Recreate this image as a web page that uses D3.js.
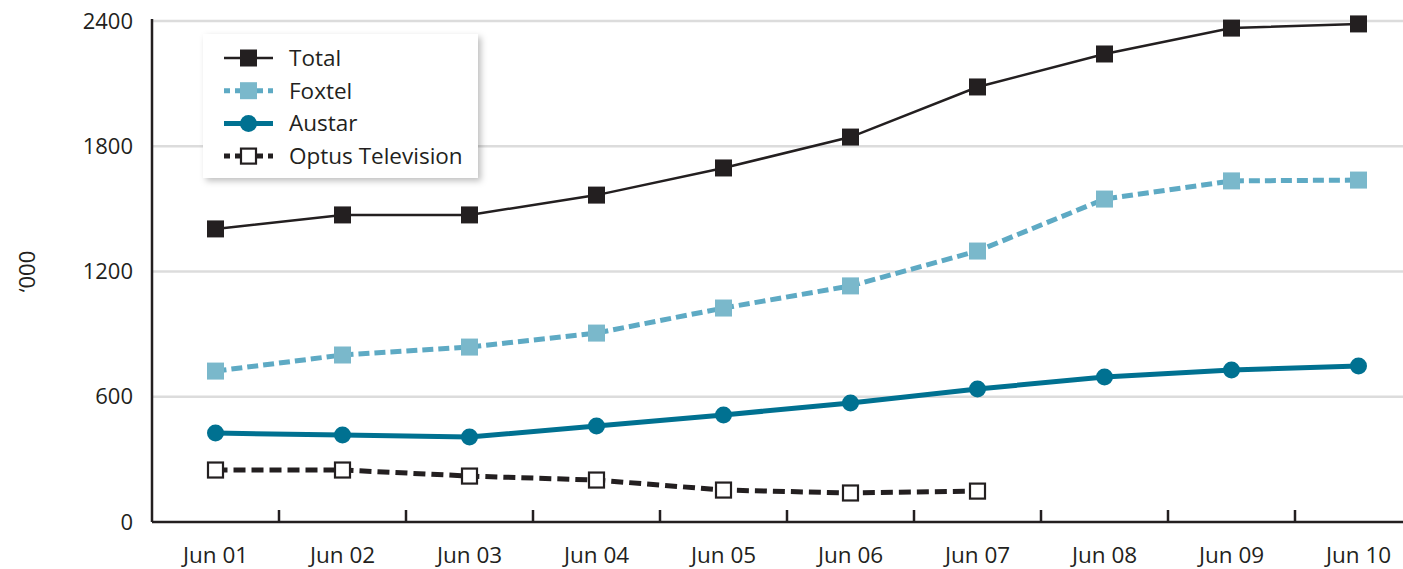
<!DOCTYPE html>
<html>
<head>
<meta charset="utf-8">
<script src="https://cdn.jsdelivr.net/npm/d3@7"></script>
<style>
  body { margin: 0; background: #fff; }
  svg { display: block; font-family: "Open Sans", sans-serif; }
</style>
</head>
<body>
<div id="chart"></div>
<script>
// chart values
const months = ['Jun 01', 'Jun 02', 'Jun 03', 'Jun 04', 'Jun 05', 'Jun 06', 'Jun 07', 'Jun 08', 'Jun 09', 'Jun 10'];
const total = [1404, 1471, 1471, 1566, 1696, 1844, 2084, 2242, 2366, 2386];
const foxtel = [723, 800, 838, 905, 1025, 1131, 1298, 1547, 1634, 1638];
const austar = [426, 417, 407, 460, 513, 570, 637, 695, 728, 747];
const optus = [249, 249, 220, 201, 153, 139, 148];
const yTicks = [0, 600, 1200, 1800, 2400];
const yLabel = '\u2018000';

const width = 1403;
const height = 569;
const margin = { top: 21, left: 152, bottom: 47 };

const svg = d3.select('#chart')
  .append('svg')
  .attr('width', width)
  .attr('height', height);

const defs = svg.append('defs');
const shadow = defs.append('filter').attr('id', 'shadow')
  .attr('x', '-10%').attr('y', '-10%').attr('width', '125%').attr('height', '130%');
shadow.append('feDropShadow')
  .attr('dx', 3).attr('dy', 3).attr('stdDeviation', 3)
  .attr('flood-color', '#000').attr('flood-opacity', 0.25);

const x = d3.scaleBand()
  .domain(months)
  .range([margin.left, margin.left + 127 * months.length])
  .padding(0);

const y = d3.scaleLinear()
  .domain([0, 2400])
  .range([height - margin.bottom, margin.top]);

const cx = (d, i) => x(months[i]) + x.bandwidth() / 2;

// gridlines
svg.append('g')
  .selectAll('line')
  .data(yTicks.filter(d => d > 0))
  .join('line')
  .attr('x1', margin.left)
  .attr('x2', width)
  .attr('y1', d => y(d))
  .attr('y2', d => y(d))
  .attr('stroke', '#dcdcdc')
  .attr('stroke-width', 2.5);

// y labels
svg.append('g')
  .selectAll('text')
  .data(yTicks)
  .join('text')
  .attr('x', 133)
  .attr('y', d => y(d))
  .attr('dy', '0.35em')
  .attr('text-anchor', 'end')
  .attr('font-size', 22)
  .attr('fill', '#231f20')
  .text(d => d);

svg.append('text')
  .attr('transform', `translate(35, ${y(1200)}) rotate(-90)`)
  .attr('text-anchor', 'middle')
  .attr('font-size', 22)
  .attr('fill', '#231f20')
  .text(yLabel);

// x axis with ticks pointing up
const xAxis = svg.append('g')
  .attr('transform', `translate(0, ${y(0)})`);
xAxis.append('line')
  .attr('x1', margin.left).attr('x2', width)
  .attr('stroke', '#231f20').attr('stroke-width', 2.5);
xAxis.selectAll('.tick')
  .data(months.slice(1))
  .join('line')
  .attr('class', 'tick')
  .attr('x1', d => x(d)).attr('x2', d => x(d))
  .attr('y1', 0).attr('y2', -12)
  .attr('stroke', '#231f20').attr('stroke-width', 2.5);
xAxis.selectAll('text')
  .data(months)
  .join('text')
  .attr('x', d => x(d) + x.bandwidth() / 2)
  .attr('y', 41)
  .attr('text-anchor', 'middle')
  .attr('font-size', 22.5)
  .attr('fill', '#231f20')
  .text(d => d);

// y axis line
svg.append('line')
  .attr('x1', margin.left).attr('x2', margin.left)
  .attr('y1', margin.top - 2).attr('y2', y(0))
  .attr('stroke', '#231f20').attr('stroke-width', 2.5);

const series = [
  { name: 'Total', values: total, color: '#231f20', width: 2.5, dash: null, marker: 'square', fill: '#231f20' },
  { name: 'Foxtel', values: foxtel, color: '#5eaac4', width: 5, dash: '11,5', marker: 'square', fill: '#7ab8cb' },
  { name: 'Austar', values: austar, color: '#007191', width: 5, dash: null, marker: 'circle', fill: '#007191' },
  { name: 'Optus Television', values: optus, color: '#231f20', width: 5, dash: '12,6', marker: 'hollow', fill: '#fff' },
];

const line = d3.line()
  .x(cx)
  .y(d => y(d));

function drawMarker(g, s, px, py) {
  if (s.marker === 'circle') {
    g.append('circle').attr('cx', px).attr('cy', py).attr('r', 8.5).attr('fill', s.fill);
  } else if (s.marker === 'hollow') {
    g.append('rect').attr('x', px - 7.5).attr('y', py - 7.5).attr('width', 15).attr('height', 15)
      .attr('fill', '#fff').attr('stroke', '#231f20').attr('stroke-width', 2.2);
  } else {
    g.append('rect').attr('x', px - 8.5).attr('y', py - 8.5).attr('width', 17).attr('height', 17)
      .attr('fill', s.fill);
  }
}

const plot = svg.append('g');
series.slice().reverse().forEach(s => {
  const g = plot.append('g');
  g.append('path')
    .datum(s.values)
    .attr('d', line)
    .attr('fill', 'none')
    .attr('stroke', s.color)
    .attr('stroke-width', s.width)
    .attr('stroke-dasharray', s.dash);
  s.values.forEach((v, i) => drawMarker(g, s, cx(v, i), y(v)));
});

// legend
const legend = svg.append('g').attr('transform', 'translate(203, 34)');
legend.append('rect')
  .attr('width', 275).attr('height', 144)
  .attr('fill', '#fff')
  .attr('filter', 'url(#shadow)');
series.forEach((s, i) => {
  const ly = 24 + i * 32.7;
  const g = legend.append('g');
  g.append('line')
    .attr('x1', 21).attr('x2', 70)
    .attr('y1', ly).attr('y2', ly)
    .attr('stroke', s.color)
    .attr('stroke-width', s.width)
    .attr('stroke-dasharray', s.dash ? '6,5' : null);
  drawMarker(g, s, 45.5, ly);
  legend.append('text')
    .attr('x', 86).attr('y', ly)
    .attr('dy', '0.35em')
    .attr('font-size', 22.5)
    .attr('fill', '#231f20')
    .text(s.name);
});
</script>
</body>
</html>
